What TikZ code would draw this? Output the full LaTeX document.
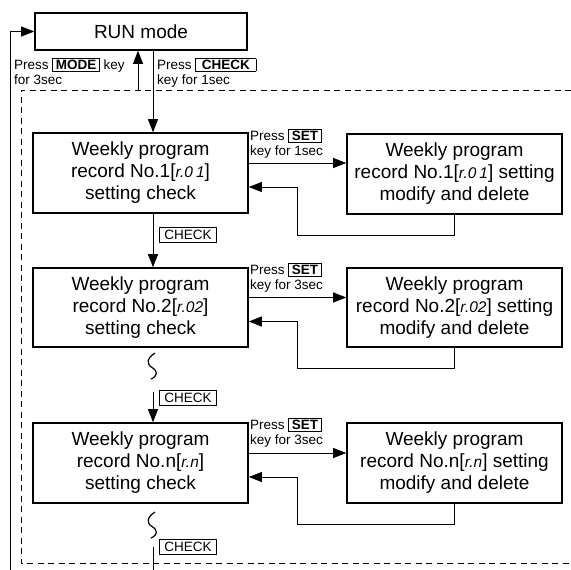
\documentclass[tikz,border=0pt]{standalone}
\usepackage{fontspec}
\setmainfont{Liberation Sans}
\usetikzlibrary{arrows.meta}
\newcommand\segtxt[1]{{\fontsize{15.5}{15.5}\selectfont\itshape #1}}
\newcommand\keybox[1]{{\setlength{\fboxsep}{1.2pt}\setlength{\fboxrule}{0.8pt}\fbox{\hspace{1.5pt}\textbf{#1}\hspace{1.5pt}}}}
\tikzset{
  box/.style={draw, line width=1.6pt, minimum width=215pt, minimum height=80pt, align=center, inner sep=1pt, font=\fontsize{19}{22}\selectfont},
  conn/.style={line width=0.9pt},
  arr/.style={line width=0.9pt, -{Triangle[length=13pt,width=10pt]}},
  lbl/.style={anchor=north west, inner sep=0pt, align=left, font=\fontsize{13.5}{15}\selectfont},
  chk/.style={draw, line width=0.8pt, anchor=west, inner xsep=5pt, inner ysep=2.5pt, font=\fontsize{13.5}{15}\selectfont},
  sq/.style={line width=1.2pt},
}
\begin{document}
\begin{tikzpicture}[x=1pt,y=-1pt]
\useasboundingbox (0,0) rectangle (571,570);
% dashed region
\draw[line width=0.9pt, dash pattern=on 6pt off 4.5pt] (571,90) -| (21,563) -- (571,563);
% main nodes
\node[box, minimum width=212pt, minimum height=37pt] (run) at (141,31.5) {RUN mode};
\node[box] (b1) at (140.5,173) {Weekly program\\record No.1[\segtxt{r.0\kern3pt 1}]\\setting check};
\node[box] (r1) at (454.5,174) {Weekly program\\record No.1[\segtxt{r.0\kern3pt 1}] setting\\modify and delete};
\node[box, minimum height=79pt] (b2) at (140.5,307.5) {Weekly program\\record No.2[\segtxt{r.02}]\\setting check};
\node[box, minimum height=79pt] (r2) at (454.5,307.5) {Weekly program\\record No.2[\segtxt{r.02}] setting\\modify and delete};
\node[box] (b3) at (140.5,463) {Weekly program\\record No.n[\segtxt{r.n}]\\setting check};
\node[box] (r3) at (454.5,463) {Weekly program\\record No.n[\segtxt{r.n}] setting\\modify and delete};
% labels
\node[lbl] (lm) at (14,58) {Press \keybox{MODE} key\\for 3sec};
\node[lbl] (lc) at (157,58) {Press \keybox{\hspace{3pt}CHECK\hspace{3pt}}\\key for 1sec};
\node[lbl] (ls1) at (250,129) {Press \keybox{SET}\\key for 1sec};
\node[lbl] (ls2) at (250,263) {Press \keybox{SET}\\key for 3sec};
\node[lbl] (ls3) at (250,418) {Press \keybox{SET}\\key for 3sec};
\node[chk] (c1) at (159,235) {CHECK};
\node[chk] (c2) at (159,398) {CHECK};
\node[chk] (c3) at (159,547) {CHECK};
% coordinates
\coordinate (L) at (10,570);
\coordinate (u) at (138,90);
\coordinate (d) at (153,0);
\coordinate (s2) at (153,392);
\coordinate (s3a) at (153,547);
\coordinate (s3b) at (153,570);
% left loop back
\draw[arr] (L) |- (run.west);
\draw[arr] (u) -- (u |- run.south);
\draw[arr] (d |- run.south) -- (d |- b1.north);
\draw[arr] (d |- b1.south) -- (d |- b2.north);
\draw[arr] (s2) -- (s2 |- b3.north);
\draw[conn] (s3a) -- (s3b);
% squiggles
\draw[sq] (155,353) .. controls (147,358) and (146,364) .. (152,367.5) .. controls (158,371) and (158,376) .. (151,379);
\draw[sq] (155,512) .. controls (147,517) and (146,523) .. (152,526.5) .. controls (158,530) and (158,535) .. (151,538);
% side loops
\foreach \b/\r in {b1/r1, b2/r2, b3/r3}{
  \coordinate (f) at ([yshift=10pt]\b.east);
  \coordinate (k) at ([yshift=-14pt]\b.east);
  \draw[arr] (f) -- (f -| \r.west);
  \draw[arr] (\r.south) -- ++(0,21) -| ([xshift=49pt]k) -- (k);
}
\end{tikzpicture}
\end{document}
